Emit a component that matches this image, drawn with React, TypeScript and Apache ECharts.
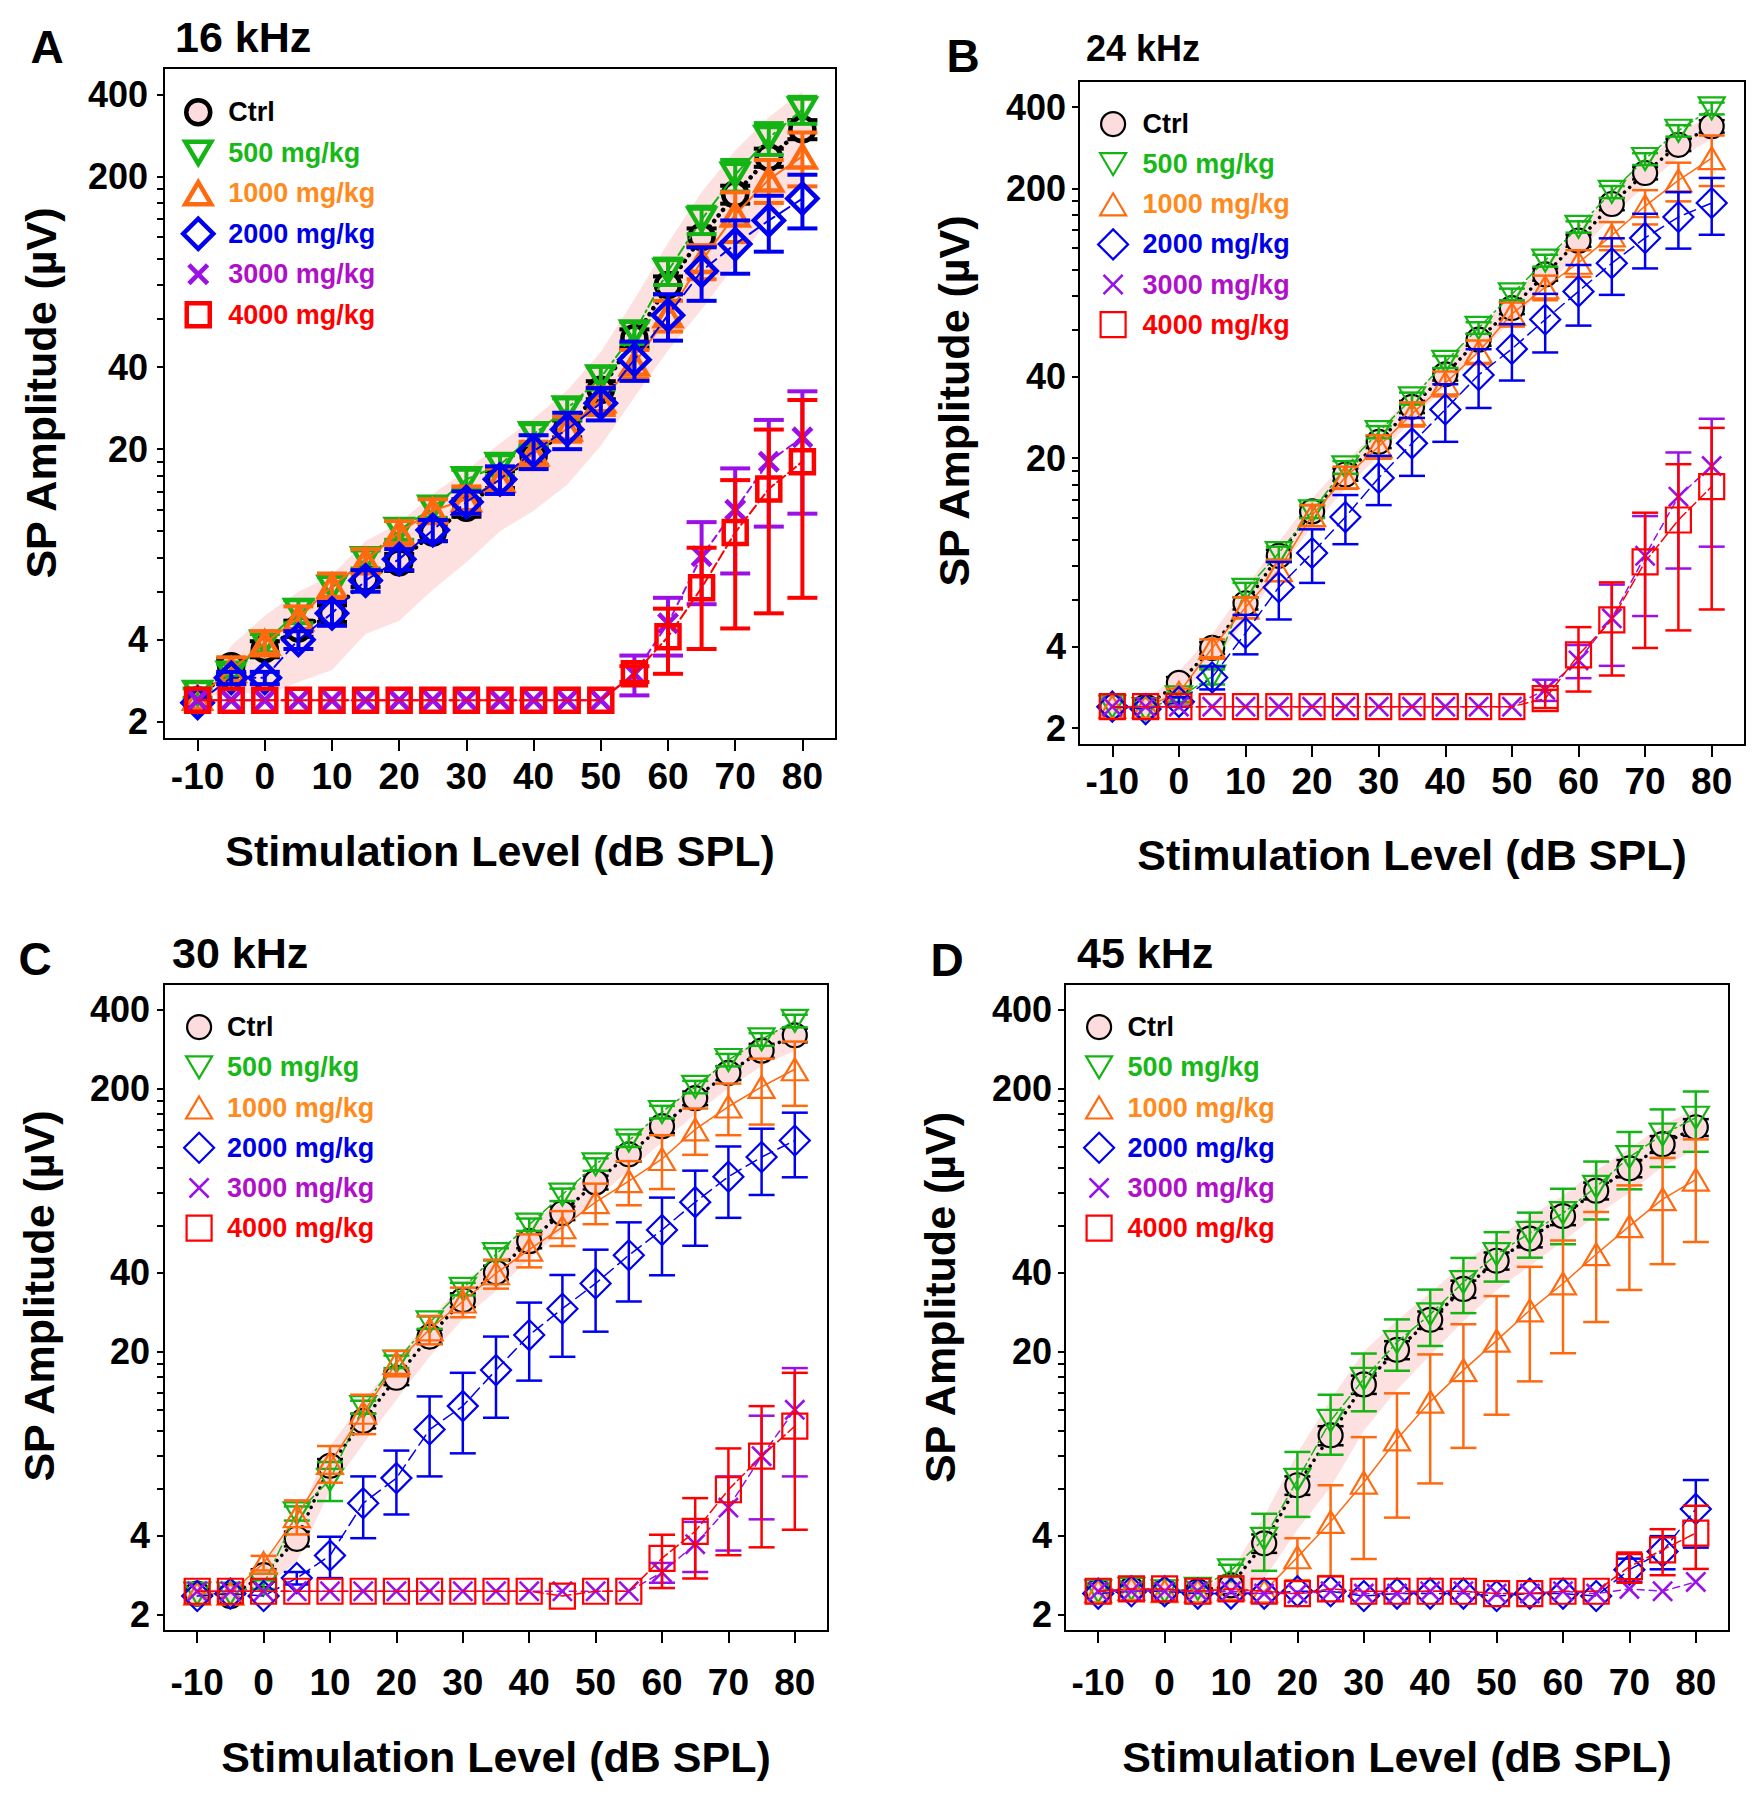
import React, { useEffect, useRef } from 'react';
import * as echarts from 'echarts';

// ---------- shared axes / categories ----------
const XS = [-10, -5, 0, 5, 10, 15, 20, 25, 30, 35, 40, 45, 50, 55, 60, 65, 70, 75, 80];
const X_TICKS = [-10, 0, 10, 20, 30, 40, 50, 60, 70, 80];
const Y_LABEL_TICKS = [2, 4, 20, 40, 200, 400];
const Y_MINOR_TICKS = [6, 8, 10, 12, 14, 16, 18, 60, 80, 100, 120, 140, 160, 180];
const Y_MIN = 1.73;
const Y_MAX = 500;
const GROUP_NAMES = ['Ctrl', '500 mg/kg', '1000 mg/kg', '2000 mg/kg', '3000 mg/kg', '4000 mg/kg'];

// ---------- Panel A : 16 kHz ----------
const A_CTRL = [2.4, 3.2, 3.7, 4.4, 5.0, 6.7, 7.7, 9.9, 12.2, 15.5, 18.9, 23.8, 33, 51, 80, 120, 172, 235, 298];
const A_CTRL_SE = [0, 0.2, 0.25, 0.3, 0.35, 0.45, 0.55, 0.7, 0.9, 1.1, 1.4, 1.7, 2.5, 4, 6, 9, 13, 18, 24];
const A_500 = [2.55, 3.0, 3.9, 5.1, 6.2, 7.9, 10.1, 12.2, 15.5, 17.5, 22.7, 28.2, 36.6, 53.6, 90, 139, 203, 277, 352];
const A_500_SE = [0.1, 0.25, 0.3, 0.5, 0.6, 0.6, 0.8, 1.0, 1.3, 1.5, 2.0, 2.5, 3.5, 5, 10, 16, 27, 37, 40];
const A_1000 = [2.45, 3.1, 3.9, 4.8, 6.3, 7.8, 9.9, 11.9, 13.1, 15.4, 19.3, 23.8, 30.2, 41.2, 62, 98, 145, 195, 237];
const A_1000_SE = [0, 0.35, 0.4, 0.5, 0.7, 0.8, 1.0, 1.2, 1.5, 1.6, 2.0, 2.5, 3.5, 5, 8, 14, 30, 35, 53];
const A_2000 = [2.35, 2.9, 2.9, 4.0, 5.0, 6.6, 7.9, 10.1, 12.8, 15.5, 19.7, 23.6, 29.5, 42.6, 62, 90, 113, 138, 166];
const A_2000_SE = [0, 0.15, 0.15, 0.3, 0.5, 0.6, 0.7, 0.9, 1.2, 1.8, 2.8, 3.6, 4.0, 7, 12, 20, 25, 32, 37];
const A_3000 = [2.4, 2.4, 2.4, 2.4, 2.4, 2.4, 2.4, 2.4, 2.4, 2.4, 2.4, 2.4, 2.4, 3.0, 4.6, 8.1, 12.0, 18.0, 22.1];
const A_3000_SE = [0, 0, 0, 0, 0, 0, 0, 0, 0, 0, 0, 0, 0, 0.5, 1.1, 2.7, 5.0, 7.6, 10.5];
const A_4000 = [2.4, 2.4, 2.4, 2.4, 2.4, 2.4, 2.4, 2.4, 2.4, 2.4, 2.4, 2.4, 2.4, 3.0, 4.1, 6.2, 9.9, 14.3, 18.0];
const A_4000_SE = [0, 0, 0, 0, 0, 0, 0, 0, 0, 0, 0, 0, 0, 0.2, 1.1, 2.5, 5.5, 9.3, 12.3];
const A_BAND_SD = [0, 0.6, 1.2, 1.6, 1.9, 2.5, 3.0, 3.8, 4.5, 5.5, 7, 9, 12.4, 20, 34, 55, 77, 95, 113];

// ---------- Panel B : 24 kHz ----------
const B_CTRL = [2.4, 2.4, 2.94, 3.96, 5.8, 8.7, 12.7, 17.4, 23, 31, 40.9, 55, 72, 96, 128, 175, 228, 290, 340];
const B_CTRL_SE = [0, 0, 0.15, 0.2, 0.3, 0.45, 0.65, 0.9, 1.2, 1.6, 2.1, 2.8, 3.6, 5, 6.5, 9, 12, 15, 18];
const B_500 = [2.4, 2.35, 2.6, 3.1, 6.5, 8.9, 12.7, 18.5, 25, 33.3, 45.5, 60.8, 81, 108, 144, 194, 257, 327, 396];
const B_500_SE = [0, 0, 0.1, 0.2, 0.4, 0.5, 0.7, 1.0, 1.3, 1.7, 2.3, 3, 4, 5.5, 7, 10, 13, 16, 20];
const B_1000 = [2.4, 2.4, 2.7, 3.96, 5.6, 7.7, 12.3, 17, 22.1, 29.2, 37.9, 49.6, 68.5, 86, 106, 134, 172, 214, 259];
const B_1000_SE = [0, 0, 0.1, 0.3, 0.5, 0.7, 1.1, 1.6, 2.2, 3, 4, 5, 7, 9, 12, 16, 25, 35, 55];
const B_2000 = [2.4, 2.35, 2.5, 3.08, 4.5, 6.65, 8.9, 12.1, 16.9, 22.7, 30.3, 40.7, 50.8, 65.3, 83, 105.6, 131, 156.6, 176.6];
const B_2000_SE = [0, 0, 0.1, 0.3, 0.75, 1.6, 2.0, 2.5, 3.5, 5.5, 7.3, 10, 12, 16, 21, 25, 30, 37, 42];
const B_3000 = [2.4, 2.4, 2.4, 2.4, 2.4, 2.4, 2.4, 2.4, 2.4, 2.4, 2.4, 2.4, 2.4, 2.77, 3.56, 5.1, 8.7, 14.4, 18.7];
const B_3000_SE = [0, 0, 0, 0, 0, 0, 0, 0, 0, 0, 0, 0, 0, 0.25, 0.5, 1.7, 3.5, 6.6, 9.3];
const B_4000 = [2.4, 2.4, 2.4, 2.4, 2.4, 2.4, 2.4, 2.4, 2.4, 2.4, 2.4, 2.4, 2.4, 2.57, 3.73, 5.03, 8.26, 11.8, 15.7];
const B_4000_SE = [0, 0, 0, 0, 0, 0, 0, 0, 0, 0, 0, 0, 0, 0.2, 1.0, 1.9, 4.3, 7.2, 10.2];
const B_BAND_SD = [0, 0.1, 0.3, 0.5, 0.8, 1.1, 1.5, 2, 2.6, 3.3, 4.3, 5.8, 7.5, 10, 13, 18, 23, 30, 36];

// ---------- Panel C : 30 kHz ----------
const C_CTRL = [2.4, 2.35, 2.82, 3.88, 7.35, 10.9, 15.9, 22.8, 31.4, 40, 52.6, 67.2, 88, 112.5, 144, 184, 229.6, 279, 319];
const C_CTRL_SE = [0, 0, 0.15, 0.25, 0.45, 0.7, 1.0, 1.4, 1.9, 2.4, 3.2, 4, 5.3, 6.8, 8.6, 11, 14, 17, 19];
const C_500 = [2.4, 2.4, 2.6, 4.85, 6.5, 12.3, 18.3, 25.8, 34.6, 46.9, 60.8, 79, 103, 127, 163, 203, 257, 308, 362];
const C_500_SE = [0, 0, 0.1, 0.3, 1.1, 0.7, 1.0, 1.4, 1.9, 2.5, 3.3, 4.3, 5.6, 7, 9, 11, 14, 17, 20];
const C_1000 = [2.4, 2.4, 3.14, 4.73, 7.54, 11.7, 18.1, 24.3, 31, 39.7, 48.8, 59.4, 74, 89, 108, 140, 171, 203, 237];
const C_1000_SE = [0, 0, 0.2, 0.7, 1.2, 2.0, 2.0, 3.0, 4.0, 5.0, 7, 9, 13, 17, 25, 28, 38, 57, 65];
const C_2000 = [2.35, 2.4, 2.35, 2.75, 3.35, 5.3, 6.6, 10.1, 12.4, 17, 23.1, 29.1, 36.3, 46.5, 58, 74, 92.5, 109.8, 127];
const C_2000_SE = [0, 0, 0, 0.15, 0.6, 1.4, 1.8, 3.4, 4.2, 5.8, 7.6, 10, 12.5, 15.5, 19, 23.5, 28, 31, 35];
const C_3000 = [2.45, 2.45, 2.45, 2.45, 2.45, 2.45, 2.45, 2.45, 2.45, 2.45, 2.45, 2.45, 2.45, 2.45, 2.89, 3.7, 5.1, 8.0, 12.0];
const C_3000_SE = [0, 0, 0, 0, 0, 0, 0, 0, 0, 0, 0, 0, 0, 0, 0.25, 0.8, 1.6, 3.4, 5.3];
const C_4000 = [2.45, 2.45, 2.45, 2.45, 2.45, 2.45, 2.45, 2.45, 2.45, 2.45, 2.45, 2.35, 2.45, 2.45, 3.27, 4.14, 5.96, 8.0, 10.4];
const C_4000_SE = [0, 0, 0, 0, 0, 0, 0, 0, 0, 0, 0, 0, 0, 0, 0.75, 1.4, 2.6, 4.4, 6.2];
const C_BAND_SD = [0, 0, 0.3, 0.7, 1.4, 2.0, 2.8, 3.7, 4.8, 6, 7.5, 9.5, 12, 15, 19, 24, 29, 35, 40];

// ---------- Panel D : 45 kHz ----------
const D_CTRL = [2.45, 2.5, 2.45, 2.45, 2.58, 3.73, 6.2, 9.6, 15, 20.3, 26.4, 34.6, 44.3, 53.8, 65.5, 81.8, 99.5, 122.9, 142.6];
const D_CTRL_SE = [0, 0, 0, 0, 0.1, 0.3, 0.5, 0.8, 1.2, 1.6, 2, 2.6, 3.3, 4, 5, 6, 7.5, 9, 10.5];
const D_500 = [2.45, 2.5, 2.45, 2.5, 2.94, 3.88, 6.5, 10.9, 15.75, 21.7, 27.7, 36.7, 46.9, 56.5, 67.2, 84.6, 109.8, 133.7, 155];
const D_500_SE = [0, 0, 0, 0, 0.15, 0.95, 1.8, 2.8, 3.9, 4.8, 6.7, 8.7, 10, 11, 16, 21, 27, 33, 40];
const D_1000 = [2.45, 2.5, 2.45, 2.45, 2.5, 2.45, 3.3, 4.5, 6.35, 9.27, 12.9, 17, 22, 28.7, 36.3, 46.9, 60, 76, 90.2];
const D_1000_SE = [0, 0, 0, 0, 0, 0, 0.6, 1.7, 3.1, 4.6, 6.6, 8.4, 10.5, 13.3, 16.6, 21, 25.7, 33, 38];
const D_2000 = [2.4, 2.45, 2.45, 2.4, 2.4, 2.4, 2.45, 2.45, 2.35, 2.4, 2.4, 2.4, 2.35, 2.4, 2.4, 2.35, 2.96, 3.47, 5.04];
const D_2000_SE = [0, 0, 0, 0, 0, 0, 0, 0, 0, 0, 0, 0, 0, 0, 0, 0, 0.3, 0.5, 1.45];
const D_3000 = [2.45, 2.45, 2.45, 2.45, 2.45, 2.4, 2.4, 2.45, 2.4, 2.4, 2.45, 2.45, 2.4, 2.4, 2.45, 2.4, 2.5, 2.45, 2.66];
const D_3000_SE = [0, 0, 0, 0, 0, 0, 0, 0, 0, 0, 0, 0, 0, 0, 0, 0, 0, 0, 0];
const D_4000 = [2.45, 2.5, 2.5, 2.45, 2.5, 2.45, 2.4, 2.5, 2.45, 2.45, 2.45, 2.45, 2.4, 2.4, 2.45, 2.45, 3.04, 3.52, 4.08];
const D_4000_SE = [0, 0, 0, 0, 0, 0, 0, 0, 0, 0, 0, 0, 0, 0, 0, 0, 0.4, 0.7, 1.1];
const D_BAND_SD = [0, 0, 0, 0, 0.3, 1.0, 2.0, 3.5, 5, 6, 7, 8.5, 10, 11.5, 13, 16, 19, 22, 25];

// ---------- styling ----------
const COLORS = ['#000000', '#14b414', '#ff6a10', '#0000f0', '#9b10e6', '#ff0000'];
const TEXT_COLORS = ['#000000', '#18b818', '#ff8a20', '#0000e6', '#b010c8', '#ff0000'];
const BAND_COLOR = '#fde0e0';
const CTRL_FILL = '#fcdcdc';
const SF = "'Liberation Sans', Arial, Helvetica, sans-serif";
const LINE_TYPES: any[] = [[0.1, 7], [10, 4, 2, 4], 'solid', [12, 6], [7, 5], [10, 4]];

const PAD = 'M0,0M36,36';
function circlePath(r: number) {
  return `path://${PAD}M${18 - r},18A${r},${r},0,1,1,${18 + r},18A${r},${r},0,1,1,${18 - r},18Z`;
}
function triPath(w: number, h: number, down: boolean) {
  const l = 18 - w / 2, r = 18 + w / 2, t = 18 - h / 2, b = 18 + h / 2;
  return down ? `path://${PAD}M${l},${t}L${r},${t}L18,${b}Z` : `path://${PAD}M18,${t}L${r},${b}L${l},${b}Z`;
}
function diamondPath(s: number) {
  const h = s / 2;
  return `path://${PAD}M18,${18 - h}L${18 + h},18L18,${18 + h}L${18 - h},18Z`;
}
function squarePath(s: number) {
  const a = 18 - s / 2, b = 18 + s / 2;
  return `path://${PAD}M${a},${a}L${b},${a}L${b},${b}L${a},${b}Z`;
}
function crossPath(s: number, t: number) {
  const a = 18 - s / 2, b = 18 + s / 2, c = 18;
  const pts = [[a, a + t], [a + t, a], [c, c - t], [b - t, a], [b, a + t], [c + t, c], [b, b - t], [b - t, b], [c, c + t], [a + t, b], [a, b - t], [c - t, c]];
  return `path://${PAD}M` + pts.map((p) => p.join(',')).join('L') + 'Z';
}

const STYLE_THICK = {
  border: 4.5, errW: 4, capW: 30, lineW: 2, dotW: 4.5,
  shapes: [circlePath(12), triPath(26, 22, true), triPath(26, 22, false), diamondPath(30), crossPath(22, 3.3), squarePath(23)],
};
const STYLE_THIN = {
  border: 2.2, errW: 2.5, capW: 26, lineW: 1.5, dotW: 3.5,
  shapes: [circlePath(12), triPath(26, 22, true), triPath(26, 22, false), diamondPath(30), crossPath(21, 1.85), squarePath(25)],
};

const PANELS = [
  {
    key: 'A', title: '16 kHz', grid: [164, 68, 672, 671], letter: [47, 47], titlePos: [175, 37], narrowTitle: false,
    legend: { left: 178, top: 92, w: 50, spacing: 40.5 }, xLabelMargin: 18.5, xNameGap: 90, yLabelMargin: 16, yNameGap: 102, yNamePad: 21,
    st: STYLE_THICK,
    means: [A_CTRL, A_500, A_1000, A_2000, A_3000, A_4000],
    ses: [A_CTRL_SE, A_500_SE, A_1000_SE, A_2000_SE, A_3000_SE, A_4000_SE],
    band: A_BAND_SD,
  },
  {
    key: 'B', title: '24 kHz', grid: [1079, 81, 666, 664], letter: [963, 56], titlePos: [1086, 48], narrowTitle: true,
    legend: { left: 1094, top: 105, w: 49, spacing: 40.1 }, xLabelMargin: 17.5, xNameGap: 88, yLabelMargin: 13, yNameGap: 104, yNamePad: 24,
    st: STYLE_THIN,
    means: [B_CTRL, B_500, B_1000, B_2000, B_3000, B_4000],
    ses: [B_CTRL_SE, B_500_SE, B_1000_SE, B_2000_SE, B_3000_SE, B_4000_SE],
    band: B_BAND_SD,
  },
  {
    key: 'C', title: '30 kHz', grid: [164, 984, 664, 647], letter: [35, 959], titlePos: [172, 953], narrowTitle: false,
    legend: { left: 180, top: 1008, w: 46, spacing: 40.2 }, xLabelMargin: 33, xNameGap: 104, yLabelMargin: 14, yNameGap: 104, yNamePad: 23,
    st: STYLE_THIN,
    means: [C_CTRL, C_500, C_1000, C_2000, C_3000, C_4000],
    ses: [C_CTRL_SE, C_500_SE, C_1000_SE, C_2000_SE, C_3000_SE, C_4000_SE],
    band: C_BAND_SD,
  },
  {
    key: 'D', title: '45 kHz', grid: [1065, 984, 664, 647], letter: [947, 960], titlePos: [1077, 953], narrowTitle: false,
    legend: { left: 1080, top: 1008, w: 47, spacing: 40.2 }, xLabelMargin: 33, xNameGap: 104, yLabelMargin: 13, yNameGap: 104, yNamePad: 20,
    st: STYLE_THIN,
    means: [D_CTRL, D_500, D_1000, D_2000, D_3000, D_4000],
    ses: [D_CTRL_SE, D_500_SE, D_1000_SE, D_2000_SE, D_3000_SE, D_4000_SE],
    band: D_BAND_SD,
  },
];

function hasFont(name: string): boolean {
  try {
    const ctx = document.createElement('canvas').getContext('2d');
    if (!ctx) return false;
    const s = 'mmmmmmmmmmlli1000WWW kHz';
    ctx.font = '40px monospace';
    const a = ctx.measureText(s).width;
    ctx.font = `40px '${name}', monospace`;
    const b = ctx.measureText(s).width;
    ctx.font = '40px serif';
    const c = ctx.measureText(s).width;
    ctx.font = `40px '${name}', serif`;
    const d = ctx.measureText(s).width;
    return a !== b || c !== d;
  } catch (e) {
    return false;
  }
}

function errSeries(means: number[], ses: number[], color: string, idx: number, st: any, z: number) {
  return {
    type: 'custom', coordinateSystem: 'cartesian2d', xAxisIndex: idx, yAxisIndex: 2 * idx,
    data: XS.map((x, k) => [x, means[k], ses[k]]),
    encode: { x: 0, y: 1 },
    silent: true, z,
    renderItem: (params: any, api: any) => {
      const x = api.value(0), m = api.value(1), s = api.value(2);
      if (!(s > 0)) return null;
      const hiV = Math.min(m + s, Y_MAX);
      const loV = Math.max(m - s, Y_MIN);
      const top = api.coord([x, hiV]);
      const bot = api.coord([x, loV]);
      const hw = st.capW / 2;
      const style = { stroke: color, lineWidth: st.errW, fill: null };
      const children: any[] = [
        { type: 'line', shape: { x1: top[0], y1: top[1], x2: bot[0], y2: bot[1] }, style },
      ];
      if (m + s < Y_MAX) children.push({ type: 'line', shape: { x1: top[0] - hw, y1: top[1], x2: top[0] + hw, y2: top[1] }, style });
      if (m - s > Y_MIN) children.push({ type: 'line', shape: { x1: bot[0] - hw, y1: bot[1], x2: bot[0] + hw, y2: bot[1] }, style });
      return { type: 'group', children };
    },
  };
}

function bandSeries(means: number[], sds: number[], idx: number) {
  return {
    type: 'custom', coordinateSystem: 'cartesian2d', xAxisIndex: idx, yAxisIndex: 2 * idx,
    data: XS.map((x, k) => [x, means[k], sds[k]]),
    encode: { x: 0, y: 1 },
    silent: true, z: 1,
    renderItem: (params: any, api: any) => {
      if (params.dataIndex !== 0) return null;
      const upper = XS.map((x, k) => api.coord([x, Math.min(means[k] + sds[k], Y_MAX)]));
      const lower = XS.map((x, k) => api.coord([x, Math.max(means[k] - sds[k], Y_MIN)])).reverse();
      return { type: 'polygon', shape: { points: upper.concat(lower) }, style: { fill: BAND_COLOR, stroke: null } };
    },
  };
}

function markerStyle(g: number, st: any) {
  return g === 4
    ? { color: COLORS[g], borderColor: 'rgba(0,0,0,0)', borderWidth: st.border }
    : { color: g === 0 ? CTRL_FILL : 'rgba(0,0,0,0)', borderColor: COLORS[g], borderWidth: st.border };
}

function buildOption() {
  const narrow = hasFont('Liberation Sans Narrow');
  const NF = narrow ? "'Liberation Sans Narrow', 'Liberation Sans', Arial, sans-serif" : SF;
  const legendSize = narrow ? 32 : 27;
  const xTickSize = narrow ? 40 : 37;
  const narrowTitleSize = narrow ? 43 : 36;
  const LOG_MIN = Math.log10(Y_MIN);
  const LOG_MAX = Math.log10(Y_MAX);
  const allYTicks = Y_LABEL_TICKS.concat(Y_MINOR_TICKS).map((v) => Math.log10(v));

  const grids: any[] = [], xAxes: any[] = [], yAxes: any[] = [], series: any[] = [], legends: any[] = [], graphics: any[] = [];

  PANELS.forEach((p, i) => {
    const st = p.st;
    grids.push({
      left: p.grid[0], top: p.grid[1], width: p.grid[2], height: p.grid[3],
      show: true, borderColor: '#000', borderWidth: 2, backgroundColor: 'transparent', containLabel: false,
    });
    xAxes.push({
      type: 'value', gridIndex: i, min: -15, max: 85,
      axisLine: { show: false, onZero: false },
      splitLine: { show: false },
      axisTick: { show: true, length: 12, inside: false, lineStyle: { color: '#000', width: 2 }, customValues: X_TICKS },
      axisLabel: { customValues: X_TICKS, fontSize: xTickSize, fontWeight: 'bold', fontFamily: NF, color: '#000', margin: p.xLabelMargin },
      name: 'Stimulation Level (dB SPL)', nameLocation: 'middle', nameGap: p.xNameGap,
      nameTextStyle: { fontSize: 43, fontWeight: 'bold', fontFamily: SF, color: '#000' },
    });
    yAxes.push({ type: 'log', logBase: 10, gridIndex: i, min: Y_MIN, max: Y_MAX, position: 'right', show: false });
    yAxes.push({
      type: 'value', gridIndex: i, position: 'left', min: LOG_MIN, max: LOG_MAX,
      axisLine: { show: false, onZero: false },
      splitLine: { show: false },
      axisTick: { show: true, length: 7, inside: false, lineStyle: { color: '#000', width: 2 }, customValues: allYTicks },
      axisLabel: {
        customValues: Y_LABEL_TICKS.map((v) => Math.log10(v)),
        formatter: (v: number) => String(Math.round(Math.pow(10, v))),
        fontSize: 36, fontWeight: 'bold', fontFamily: SF, color: '#000', margin: p.yLabelMargin,
      },
      name: 'SP Amplitude (µV)', nameLocation: 'middle', nameGap: p.yNameGap,
      nameTextStyle: { fontSize: 43, fontWeight: 'bold', fontFamily: SF, color: '#000', padding: [0, 0, 0, p.yNamePad] },
    });

    series.push(bandSeries(p.means[0], p.band, i));

    GROUP_NAMES.forEach((name, g) => {
      const col = COLORS[g];
      series.push({
        type: 'line', name, xAxisIndex: i, yAxisIndex: 2 * i,
        data: XS.map((x, k) => [x, p.means[g][k]]),
        symbol: st.shapes[g], symbolSize: 36, symbolKeepAspect: true, showAllSymbol: true,
        itemStyle: markerStyle(g, st),
        lineStyle: { color: col, width: g === 0 ? st.dotW : st.lineW, type: LINE_TYPES[g], cap: 'round' },
        emphasis: { disabled: true },
        silent: true, z: 3 + g,
      });
      series.push(errSeries(p.means[g], p.ses[g], col, i, st, 3 + g));
    });

    legends.push({
      orient: 'vertical', left: p.legend.left, top: p.legend.top, padding: 0,
      itemWidth: p.legend.w, itemHeight: 36, itemGap: Math.max(0, p.legend.spacing - 36 - st.border), align: 'left',
      selectedMode: false,
      textStyle: { fontSize: legendSize, fontWeight: 'bold', fontFamily: NF },
      data: GROUP_NAMES.map((n, g) => ({
        name: n,
        icon: st.shapes[g],
        itemStyle: markerStyle(g, st),
        textStyle: { color: TEXT_COLORS[g] },
      })),
    });

    graphics.push({
      type: 'text', x: p.letter[0], y: p.letter[1], silent: true,
      style: { text: p.key, fontSize: 46, fontWeight: 'bold', fontFamily: SF, fill: '#000', align: 'center', verticalAlign: 'middle', textAlign: 'center', textVerticalAlign: 'middle' },
    });
    graphics.push({
      type: 'text', x: p.titlePos[0], y: p.titlePos[1], silent: true,
      style: {
        text: p.title, fontSize: p.narrowTitle ? narrowTitleSize : 43, fontWeight: 'bold',
        fontFamily: p.narrowTitle ? NF : SF, fill: '#000', align: 'left', verticalAlign: 'middle', textAlign: 'left', textVerticalAlign: 'middle',
      },
    });
  });

  return {
    animation: false,
    backgroundColor: '#ffffff',
    grid: grids,
    xAxis: xAxes,
    yAxis: yAxes,
    legend: legends,
    series,
    graphic: graphics,
  };
}

export default function App() {
  const ref = useRef<HTMLDivElement>(null);
  useEffect(() => {
    if (!ref.current) return;
    const chart = echarts.init(ref.current, undefined, { renderer: 'svg' });
    chart.setOption(buildOption() as any);
    return () => {
      chart.dispose();
    };
  }, []);
  return (
    <div
      ref={ref}
      style={{ position: 'absolute', left: 0, top: 0, width: 1761, height: 1800, background: '#ffffff' }}
    />
  );
}
